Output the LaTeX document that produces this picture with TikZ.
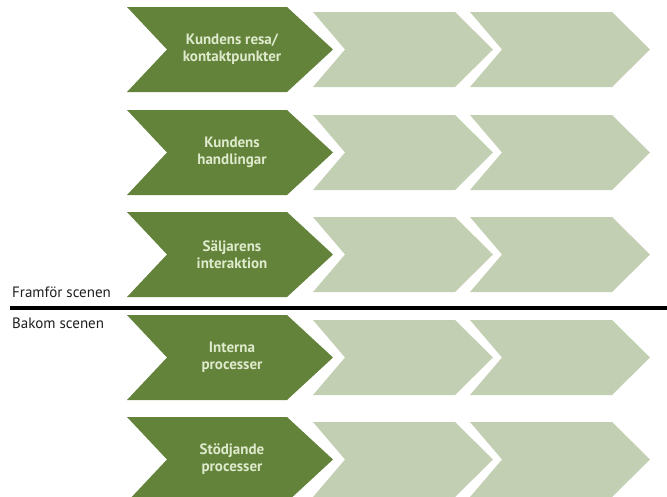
\documentclass[tikz,border=0pt]{standalone}
\usepackage{fontspec}
\setmainfont{PT Sans}
\definecolor{darkgreen}{RGB}{99,130,58}
\definecolor{lightgreen}{RGB}{195,207,179}
\definecolor{chevtext}{RGB}{222,234,204}
\definecolor{labeltext}{RGB}{30,30,30}
\tikzset{
  darkchev/.style={fill=darkgreen},
  lightchev/.style={fill=lightgreen},
  chevlabel/.style={text=chevtext, font=\bfseries\fontsize{15}{17}\selectfont, align=center, inner sep=0pt},
  sidelabel/.style={text=labeltext, font=\fontsize{15}{17}\selectfont, anchor=west, inner sep=0pt},
}
\begin{document}
\begin{tikzpicture}[x=1pt,y=-1pt]
\useasboundingbox (0,0) rectangle (667,496);
\foreach \cy/\name/\txt in {49.5/r1/{Kundens resa/\\kontaktpunkter},152.5/r2/{Kundens\\handlingar},254.5/r3/{Säljarens\\interaktion},357.5/r4/{Interna\\processer},459.5/r5/{Stödjande\\processer}}{
  % dark chevron
  \path[darkchev] (127,\cy-42.5) -- (287,\cy-42.5) -- (333,\cy) -- (287,\cy+42.5) -- (127,\cy+42.5) -- (167,\cy) -- cycle;
  % light chevrons
  \path[lightchev] (313,\cy-37.5) -- (455,\cy-37.5) -- (493,\cy) -- (455,\cy+37.5) -- (313,\cy+37.5) -- (345,\cy) -- cycle;
  \path[lightchev] (470,\cy-37.5) -- (612,\cy-37.5) -- (650,\cy) -- (612,\cy+37.5) -- (470,\cy+37.5) -- (502,\cy) -- cycle;
  \node[chevlabel] (\name) at (232,\cy) {\txt};
}
\coordinate (lineL) at (10,308);
\coordinate (lineR) at (667,308);
\draw[line width=4pt, black] (lineL) -- (lineR);
\node[sidelabel] (front) at (12,292) {Framför scenen};
\node[sidelabel] (back) at (12,323) {Bakom scenen};
\end{tikzpicture}
\end{document}
